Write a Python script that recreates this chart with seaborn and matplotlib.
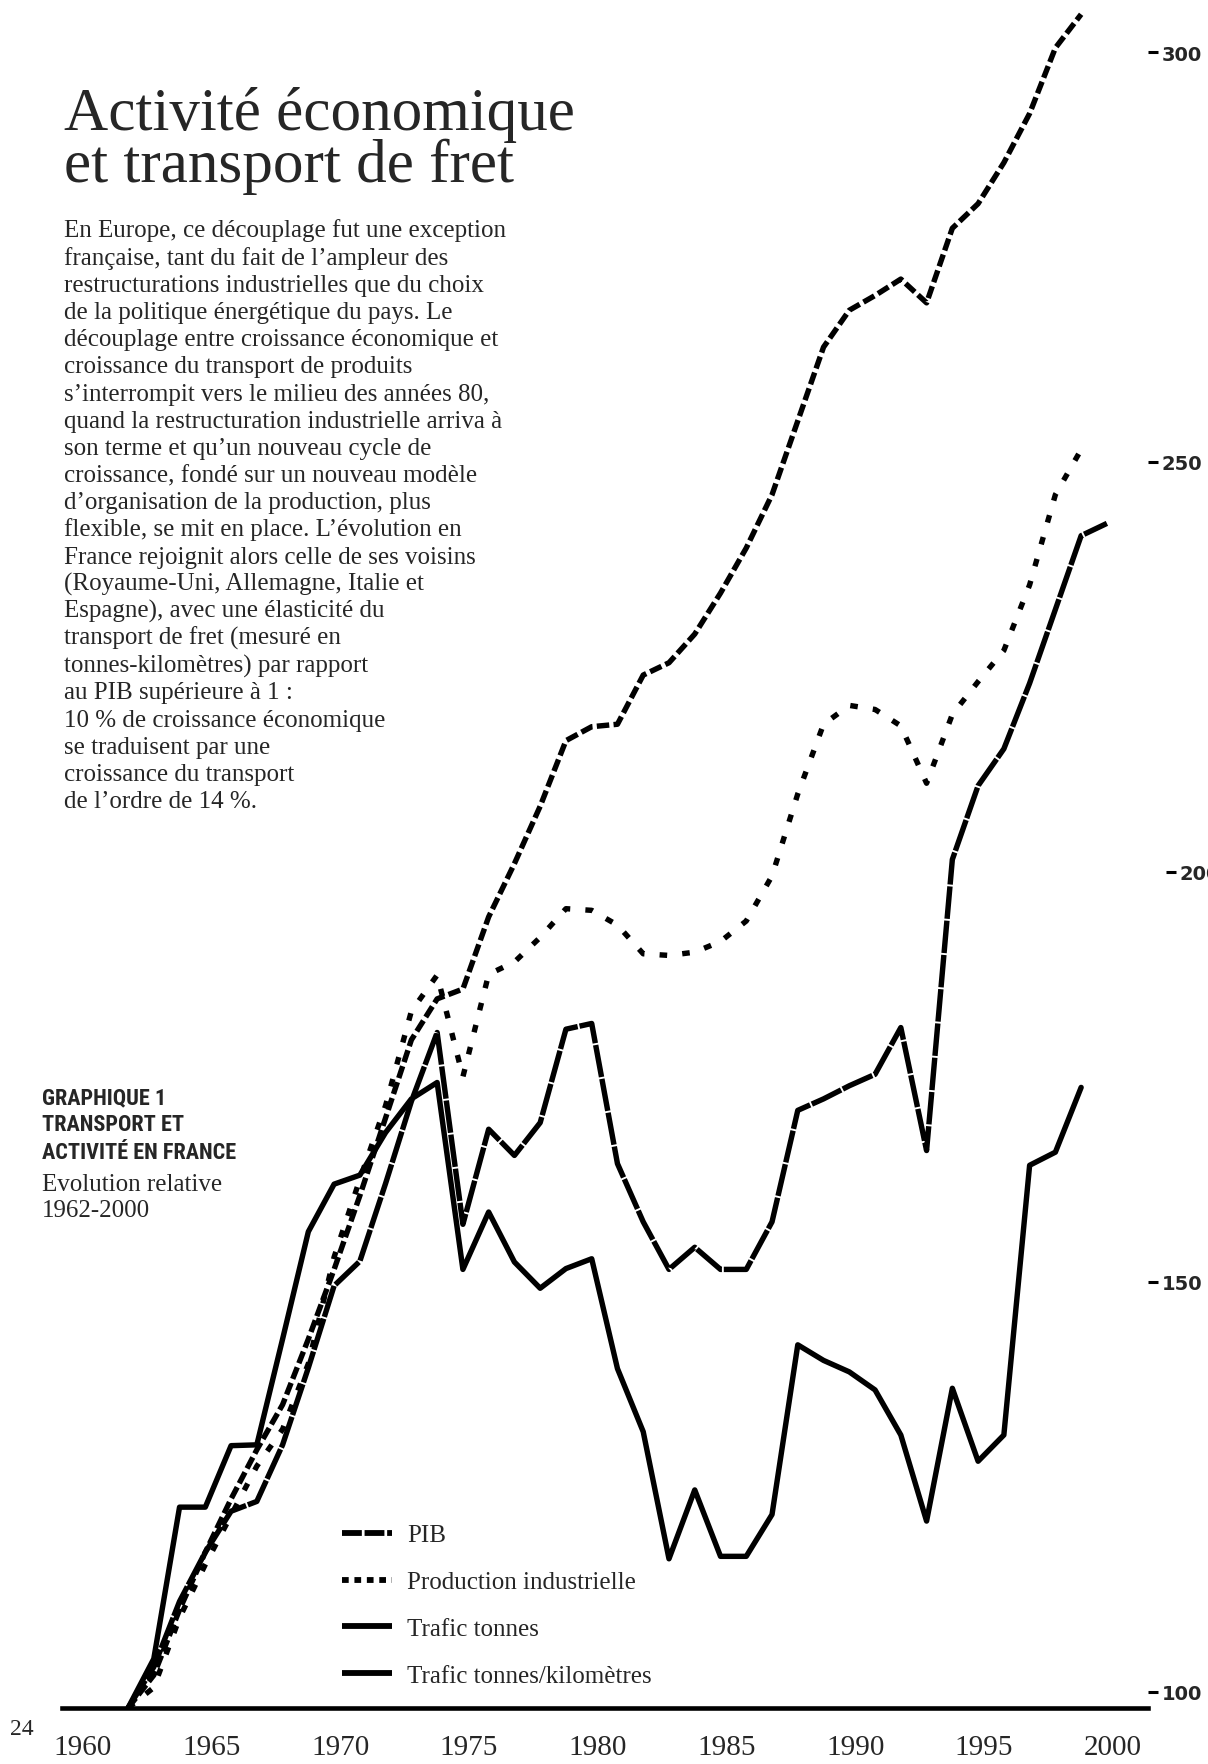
import numpy as np
import pandas as pd
import matplotlib
matplotlib.use("Agg")
import matplotlib.pyplot as plt
import matplotlib.transforms as mtrans
from matplotlib.lines import Line2D
from matplotlib import font_manager as fm
import seaborn as sns

# ---------------- data ----------------
years = list(range(1962, 2001))
pib = [98, 102, 110, 117, 123.5, 129.5, 135, 143, 151.5, 160.5,
       170, 179.5, 184.5, 185.7, 194.5, 201, 208, 216, 217.7, 218,
       224, 225.5, 229, 234, 239.5, 246, 255, 264, 268.5, 270.3,
       272.3, 269.4, 278.5, 281.5, 286.5, 292.5, 300.5, 304.6, np.nan]
production = [98, 100.5, 109, 115.5, 121.5, 127.5, 132, 140, 153, 162.5,
              171.5, 183, 187.4, 175, 187.5, 189, 192, 195.5, 195.3, 193.5,
              190, 189.8, 190.2, 191.5, 194, 199.5, 209.5, 218, 220.3, 219.8,
              217.8, 210.8, 219.2, 223.2, 227, 235, 246, 251.5, np.nan]
tonnes = [98, 104, 122.5, 122.5, 130, 130.1, 143, 156.1, 161.9, 163,
          168.2, 172.3, 174.3, 151.5, 158.5, 152.4, 149.2, 151.6, 152.8, 139.4,
          131.7, 116.2, 124.6, 116.5, 116.5, 121.6, 142.3, 140.4, 139, 136.8,
          131.3, 120.8, 137, 128.1, 131.3, 164.2, 165.8, 173.7, np.nan]
tonnes_km = [98, 103, 111, 117, 122, 123.2, 130.1, 139.5, 149.5, 152.5,
             162, 172, 180.4, 157, 168.6, 165.4, 169.4, 180.8, 181.5, 164.4,
             157.3, 151.5, 154.2, 151.5, 151.5, 157.3, 170.9, 172.3, 173.9, 175.3,
             181, 166, 201.5, 210.5, 215, 223, 232, 241, 242.5]
series_names = ["PIB", "Production industrielle", "Trafic tonnes", "Trafic tonnes/kilomètres"]
x_ticks = [1960, 1965, 1970, 1975, 1980, 1985, 1990, 1995, 2000]
y_ticks = [100, 150, 200, 250, 300]

title_lines = ["Activité économique", "et transport de fret"]
body_lines = [
    "En Europe, ce découplage fut une exception",
    "française, tant du fait de l’ampleur des",
    "restructurations industrielles que du choix",
    "de la politique énergétique du pays. Le",
    "découplage entre croissance économique et",
    "croissance du transport de produits",
    "s’interrompit vers le milieu des années 80,",
    "quand la restructuration industrielle arriva à",
    "son terme et qu’un nouveau cycle de",
    "croissance, fondé sur un nouveau modèle",
    "d’organisation de la production, plus",
    "flexible, se mit en place. L’évolution en",
    "France rejoignit alors celle de ses voisins",
    "(Royaume-Uni, Allemagne, Italie et",
    "Espagne), avec une élasticité du",
    "transport de fret (mesuré en",
    "tonnes-kilomètres) par rapport",
    "au PIB supérieure à 1 :",
    "10 % de croissance économique",
    "se traduisent par une",
    "croissance du transport",
    "de l’ordre de 14 %.",
]
graph_title = ["GRAPHIQUE 1", "TRANSPORT ET", "ACTIVITÉ EN FRANCE"]
graph_sub = ["Evolution relative", "1962-2000"]

# ---------------- fonts ----------------
sns.set_style("white")
avail = {f.name for f in fm.fontManager.ttflist}
SERIF = "Liberation Serif" if "Liberation Serif" in avail else "DejaVu Serif"
COND = next((n for n in ["Liberation Sans Narrow", "Roboto Condensed", "DejaVu Sans"] if n in avail), "DejaVu Sans")
plt.rcParams["font.family"] = [SERIF, "DejaVu Sans"]

# ---------------- figure ----------------
W, H = 1208, 1765
fig = plt.figure(figsize=(W / 100, H / 100), dpi=100)
fig.patch.set_facecolor("white")


def fx(px):
    return px / W


def fy(py):
    return 1 - py / H


AX_L, AX_R, AX_T, AX_B = 62, 1148, 0, 1709
ax = fig.add_axes([fx(AX_L), fy(AX_B), (AX_R - AX_L) / W, (AX_B - AX_T) / H])
ax.set_facecolor("none")
X0, PXY = 76.5, 25.76
ax.set_xlim(1960 + (AX_L - X0) / PXY, 1960 + (AX_R - X0) / PXY)
Y_BOT = 98
px_unit = (AX_B - 53) / (300 - Y_BOT)
ax.set_ylim(Y_BOT, Y_BOT + (AX_B - AX_T) / px_unit)

df = pd.DataFrame({"year": years, series_names[0]: pib, series_names[1]: production,
                   series_names[2]: tonnes, series_names[3]: tonnes_km})

LW = 3.9
styles = {
    "PIB": (0, (2.3, 0.8)),
    "Production industrielle": (0, (1.4, 2.8)),
    "Trafic tonnes": "-",
    "Trafic tonnes/kilomètres": (0, (6, 0.35)),
}
for name in series_names:
    sub = df[["year", name]].dropna()
    sns.lineplot(data=sub, x="year", y=name, ax=ax, color="black", lw=LW,
                 linestyle=styles[name], estimator=None, legend=False)

ax.set_xlabel("")
ax.set_ylabel("")
for s in ["left", "top", "right"]:
    ax.spines[s].set_visible(False)
ax.spines["bottom"].set_linewidth(3.3)
ax.spines["bottom"].set_color("black")

ax.set_xticks(x_ticks)
ax.set_xticklabels([str(t) for t in x_ticks])
ax.tick_params(axis="x", direction="in", length=7, width=3, color="black",
               pad=19, labelsize=21)
xoff = mtrans.ScaledTranslation(6 / 100, 0, fig.dpi_scale_trans)
for tk in ax.xaxis.get_major_ticks():
    tk.label1.set_fontfamily(SERIF)
    tk.label1.set_transform(tk.label1.get_transform() + xoff)

ax.yaxis.tick_right()
ax.set_yticks(y_ticks)
ax.set_yticklabels([str(t) for t in y_ticks])
ax.tick_params(axis="y", left=False, labelleft=False, right=True, labelright=True,
               direction="out", length=7, width=2.2, pad=3, labelsize=14, color="black")
for lab in ax.get_yticklabels():
    lab.set_fontfamily("DejaVu Sans")
    lab.set_fontweight("bold")
# the "200" mark sits further right in the original
off = mtrans.ScaledTranslation(18 / 100, 0, fig.dpi_scale_trans)
t200 = ax.yaxis.get_major_ticks()[2]
t200.tick2line.set_transform(t200.tick2line.get_transform() + off)
t200.label2.set_transform(t200.label2.get_transform() + off)
ax.grid(False)

# ---------------- legend ----------------
handles = [
    Line2D([], [], color="black", lw=4.2, linestyle=(0, (3.4, 0.47))),
    Line2D([], [], color="black", lw=4.2, linestyle=(0, (1.15, 0.98))),
    Line2D([], [], color="black", lw=4.2, linestyle="-", solid_capstyle="butt"),
    Line2D([], [], color="black", lw=4.2, linestyle="-", solid_capstyle="butt"),
]
leg = ax.legend(handles, series_names, loc="upper left",
                bbox_to_anchor=(fx(342), fy(1525)), bbox_transform=fig.transFigure,
                frameon=False, borderaxespad=0, borderpad=0,
                handlelength=2.0, handletextpad=0.6, labelspacing=0.97,
                prop={"family": SERIF, "size": 18})

# ---------------- texts ----------------
fig.text(fx(64), fy(130), title_lines[0], fontsize=44, family=SERIF, va="baseline")
fig.text(fx(64), fy(182), title_lines[1], fontsize=44, family=SERIF, va="baseline")
for i, line in enumerate(body_lines):
    fig.text(fx(64), fy(237.5 + i * 27.17), line, fontsize=18, family=SERIF, va="baseline")

cond_kw = dict(family=COND, fontweight="bold", fontsize=16, va="baseline")
if COND == "DejaVu Sans":
    cond_kw["fontstretch"] = "condensed"
for i, line in enumerate(graph_title):
    fig.text(fx(42), fy(1104 + i * 27.5), line, **cond_kw)
for i, line in enumerate(graph_sub):
    fig.text(fx(42), fy(1191 + i * 26), line, fontsize=18, family=SERIF, va="baseline")

fig.text(fx(10), fy(1735), "24", fontsize=17, family=SERIF, va="baseline")

fig.savefig("out.png", dpi=100, facecolor="white")
